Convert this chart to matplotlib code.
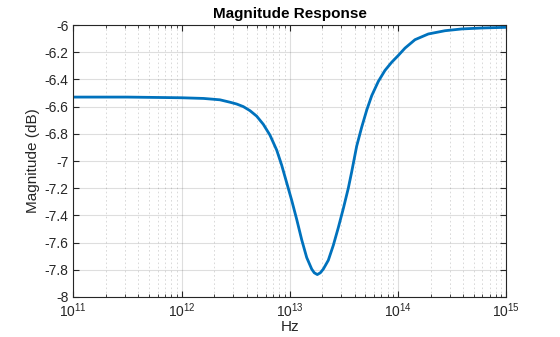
import numpy as np
import matplotlib
matplotlib.use("Agg")
import matplotlib.pyplot as plt
from matplotlib.ticker import LogLocator, FixedLocator, FuncFormatter

plt.rcParams["font.family"] = ["Liberation Sans", "DejaVu Sans"]
plt.rcParams["axes.unicode_minus"] = False

# values (frequency in Hz, magnitude in dB)
freq_hz = [1e11, 3.16e11, 1e12, 1.6e12, 2.26e12, 2.81e12, 3.23e12, 3.72e12,
           4.29e12, 4.94e12, 5.69e12, 6.56e12, 7.57e12, 8.41e12, 9.36e12,
           1.042e13, 1.159e13, 1.289e13, 1.433e13, 1.594e13, 1.683e13,
           1.795e13, 1.914e13, 2.039e13, 2.268e13, 2.523e13, 2.806e13,
           3.121e13, 3.471e13, 3.73e13, 4.15e13, 4.62e13, 5.14e13, 5.71e13,
           6.58e13, 7.57e13, 8.73e13, 1.005e14, 1.159e14, 1.434e14,
           1.903e14, 2.715e14, 3.87e14, 5.93e14, 1e15]
mag_db = [-6.53, -6.53, -6.535, -6.54, -6.55, -6.568, -6.581, -6.60,
          -6.63, -6.67, -6.73, -6.81, -6.92, -7.03, -7.16,
          -7.29, -7.43, -7.58, -7.71, -7.795, -7.822,
          -7.835, -7.822, -7.795, -7.73, -7.62, -7.49,
          -7.35, -7.20, -7.08, -6.89, -6.75, -6.625, -6.52,
          -6.414, -6.334, -6.274, -6.224, -6.17, -6.108,
          -6.066, -6.042, -6.029, -6.022, -6.017]

y_ticks = [-8, -7.8, -7.6, -7.4, -7.2, -7, -6.8, -6.6, -6.4, -6.2, -6]

fig = plt.figure(figsize=(5.6, 3.37), dpi=100)
ax = fig.add_axes([0.1309, 0.1187, 0.7732, 0.8071])

ax.semilogx(freq_hz, mag_db, color="#0072BD", linewidth=2,
            solid_joinstyle="round")
ax.set_xlim(1e11, 1e15)
ax.set_ylim(-8, -6)

ax.xaxis.set_major_locator(LogLocator(base=10, numticks=10))
ax.xaxis.set_minor_locator(LogLocator(base=10, subs=np.arange(2, 10), numticks=100))
ax.xaxis.set_major_formatter(FuncFormatter(
    lambda v, p: r"$\mathregular{10^{%d}}$" % round(np.log10(v))))
ax.yaxis.set_major_locator(FixedLocator(y_ticks))
ax.yaxis.set_major_formatter(FuncFormatter(lambda v, p: "%g" % v))

dark = "#262626"
for s in ax.spines.values():
    s.set_color(dark)
    s.set_linewidth(0.8)
ax.tick_params(which="both", direction="in", top=True, right=True,
               color=dark, labelcolor=dark, labelsize=10)
ax.tick_params(which="major", length=4)
ax.tick_params(which="minor", length=2)

ax.grid(True, which="major", color="#262626", alpha=0.15, linewidth=0.8)
ax.grid(True, which="minor", axis="x", color="#262626", alpha=0.2,
        linewidth=0.6, linestyle=(0, (2, 3)))
ax.set_axisbelow(True)

ax.set_title("Magnitude Response", fontsize=11, fontweight="bold",
             color="black", pad=5)
ax.set_xlabel("Hz", fontsize=11, color=dark, labelpad=0)
ax.set_ylabel("Magnitude (dB)", fontsize=11, color=dark, labelpad=3)

fig.savefig("out.png", dpi=100)
